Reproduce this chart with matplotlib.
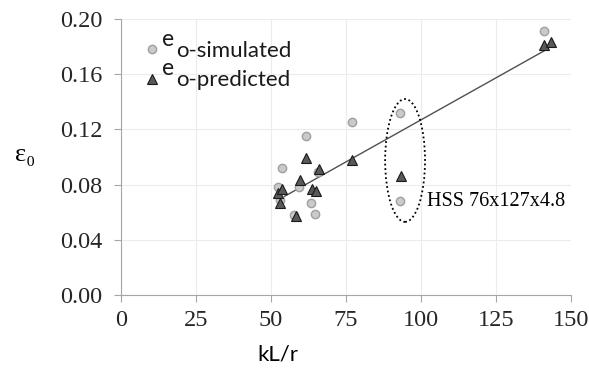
import numpy as np
import matplotlib.pyplot as plt
from matplotlib.patches import Ellipse

# values
sim_x = [52.5, 53.6, 53.0, 57.8, 59.5, 61.6, 63.3, 64.8, 65.6, 77.0, 93.0, 93.0, 141.1]
sim_y = [0.078, 0.092, 0.069, 0.058, 0.078, 0.115, 0.067, 0.059, 0.089, 0.125, 0.132, 0.068, 0.191]

pred_x = [52.5, 53.8, 53.0, 58.2, 59.7, 61.7, 63.6, 65.0, 65.9, 77.0, 93.2, 141.1, 143.3]
pred_y = [0.074, 0.077, 0.067, 0.057, 0.083, 0.099, 0.077, 0.075, 0.091, 0.098, 0.086, 0.181, 0.183]

trend_slope = 0.001218
trend_intercept = 0.0051
trend_range = [54.5, 141.6]

x_ticks = [0, 25, 50, 75, 100, 125, 150]
y_ticks = [0.00, 0.04, 0.08, 0.12, 0.16, 0.20]

# HSS 76x127x4.8 group
hss_center = (94.7, 0.0975)
hss_size = (13.3, 0.089)
hss_label = "HSS 76x127x4.8"

fig = plt.figure(figsize=(5.89, 3.73), dpi=100)
ax = fig.add_axes([0.2054, 0.2091, 0.764, 0.740])

ax.set_xlim(0, 150)
ax.set_ylim(0, 0.20)
ax.set_xticks(x_ticks)
ax.set_yticks(y_ticks)
ax.set_yticklabels([f"{v:.2f}" for v in y_ticks])
ax.grid(True, color="#ececec", lw=0.8)
ax.set_axisbelow(True)
for s in ["top", "right"]:
    ax.spines[s].set_visible(False)
for s in ["left", "bottom"]:
    ax.spines[s].set_color("#a6a6a6")
ax.tick_params(direction="out", length=5, color="#a6a6a6", width=0.8)
for lab in ax.get_xticklabels() + ax.get_yticklabels():
    lab.set_family("Liberation Serif")
    lab.set_fontsize(17.5)
    lab.set_color("#262626")
ax.tick_params(axis="x", pad=6)
ax.tick_params(axis="y", pad=8.5)

tx = np.array(trend_range)
ax.plot(tx, trend_slope * tx + trend_intercept, color="#505050", lw=1.0, zorder=2)

ax.plot(sim_x, sim_y, "o", ms=6, mfc="#cacaca", mec="#a0a0a0", mew=1.0,
        label="o-simulated", zorder=3)
ax.plot(pred_x, pred_y, "^", ms=7.5, mfc="#595959", mec="#1a1a1a", mew=0.8,
        label="o-predicted", zorder=4)

ax.add_patch(Ellipse(hss_center, hss_size[0], hss_size[1], fill=False,
                     ls=(0, (1, 1.5)), lw=1.3, color="black", zorder=5))
ax.text(102, 0.068, hss_label, family="Liberation Serif", fontsize=14.5,
        va="center", ha="left")

ax.set_xlabel("kL/r", family="Lato", fontsize=16)
ax.xaxis.set_label_coords(0.349, -0.178)
ax.set_ylabel("ε₀", family=["Liberation Serif", "DejaVu Serif"], fontsize=19,
              rotation=0, va="center", ha="center")
ax.yaxis.set_label_coords(-0.213, 0.507)

leg = ax.legend(loc="upper left", bbox_to_anchor=(0.026, 0.96), frameon=False,
                prop={"family": "Lato", "size": 16}, handletextpad=0.75,
                labelspacing=0.42, borderpad=0, handlelength=0.7)
for t in leg.get_texts():
    t.set_color("#1a1a1a")
    ax.annotate("e", xy=(0, 0.5), xycoords=t, xytext=(-10, 4),
                textcoords="offset points", ha="left", va="baseline",
                family="Lato", fontsize=16.5, color="#1a1a1a",
                zorder=7, annotation_clip=False)

fig.savefig("out.png", dpi=100)
